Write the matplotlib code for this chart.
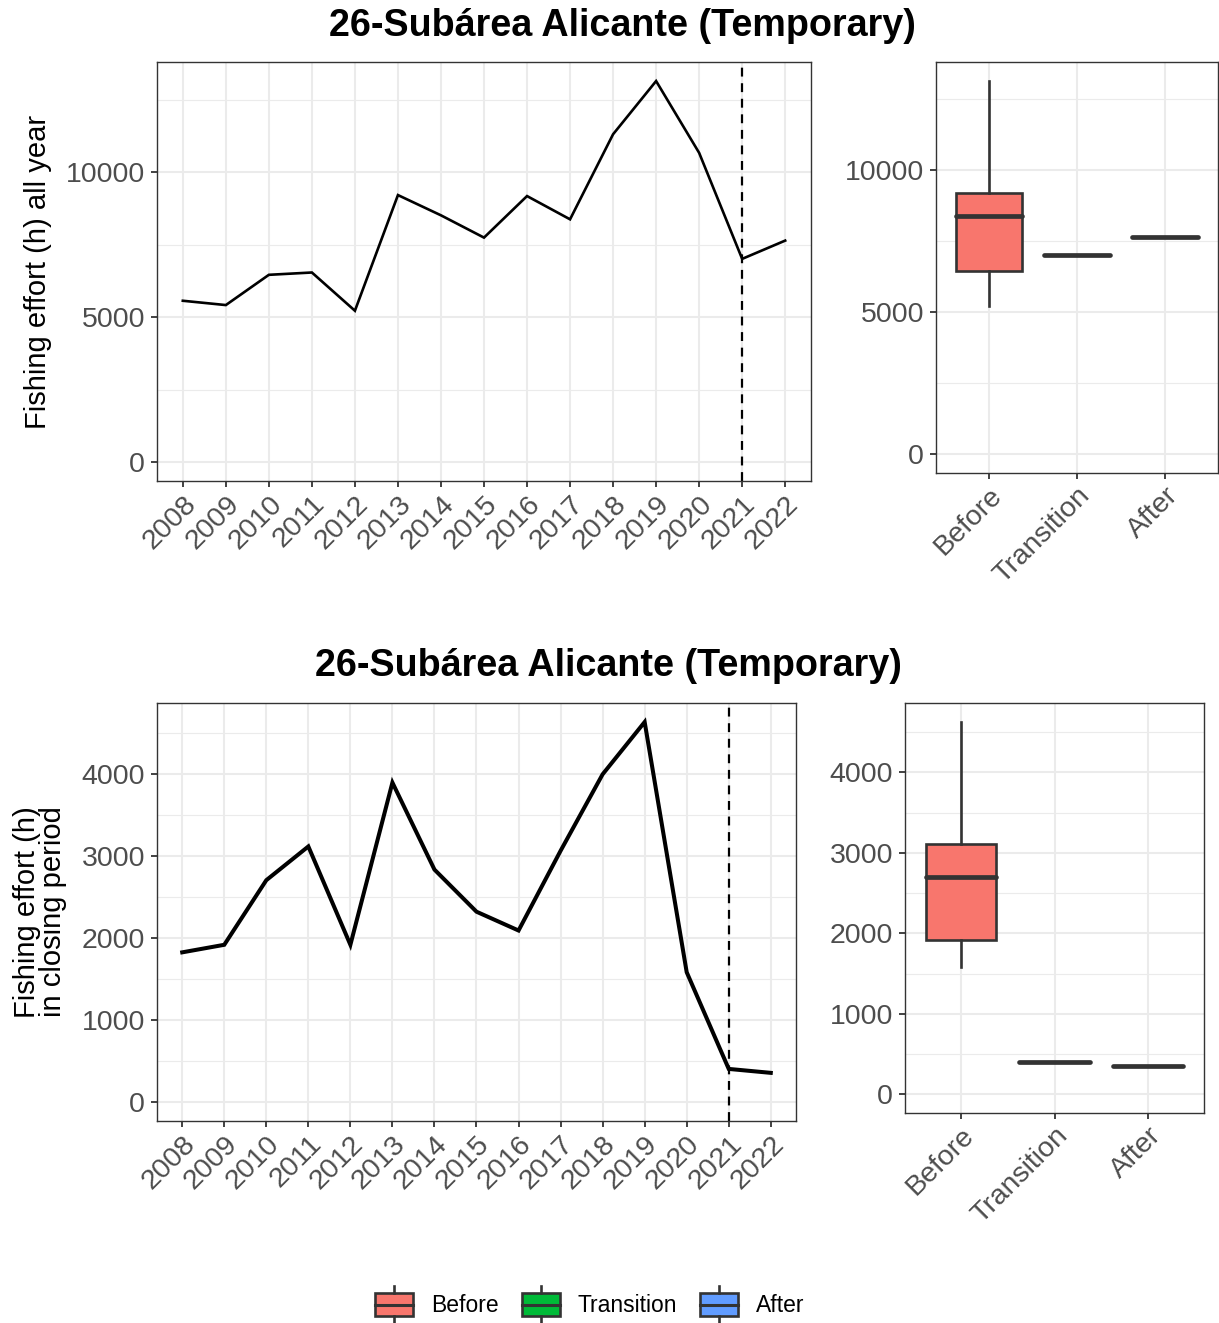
import matplotlib
matplotlib.use("Agg")
import matplotlib.pyplot as plt
from matplotlib.legend_handler import HandlerBase
from matplotlib.patches import Rectangle
from matplotlib.lines import Line2D
from matplotlib.ticker import MultipleLocator

plt.rcParams['font.family'] = ['Liberation Sans', 'DejaVu Sans']

years = [2008, 2009, 2010, 2011, 2012, 2013, 2014, 2015, 2016, 2017, 2018, 2019, 2020, 2021, 2022]
effort_all_year = [5563, 5414, 6458, 6538, 5219, 9210, 8511, 7742, 9176, 8373, 11309, 13145, 10667, 7008, 7639]
effort_closing = [1823, 1915, 2702, 3113, 1915, 3891, 2831, 2318, 2089, 3060, 3992, 4629, 1581, 403, 355]
periods = ['Before', 'Transition', 'After']
period_colors = ['#F8766D', '#00BA38', '#619CFF']
transition_year = 2021
title_text = '26-Subárea Alicante (Temporary)'
ylabel_top = 'Fishing effort (h) all year'
ylabel_bottom = 'Fishing effort (h)\nin closing period'

W, H = 1219, 1323
fig = plt.figure(figsize=(W / 100, H / 100), dpi=100)

GRID = '#EBEBEB'
DARK = '#333333'
TICKC = '#4D4D4D'


def frac(l, t, r, b):
    return [l / W, 1 - b / H, (r - l) / W, (b - t) / H]


def style(ax, ymajor, yminor):
    ax.set_facecolor('white')
    for s in ax.spines.values():
        s.set_color(DARK)
        s.set_linewidth(1.0)
    ax.yaxis.set_major_locator(MultipleLocator(ymajor))
    ax.yaxis.set_minor_locator(MultipleLocator(yminor))
    ax.grid(True, which='major', color=GRID, linewidth=1.5)
    ax.grid(True, which='minor', axis='y', color=GRID, linewidth=0.8)
    ax.set_axisbelow(True)
    ax.tick_params(axis='both', which='major', length=4, width=1.3, color=DARK,
                   labelsize=20.5, labelcolor=TICKC, pad=3)
    ax.tick_params(axis='y', which='major', pad=4.5)
    ax.tick_params(axis='y', which='minor', length=0)
    ax.tick_params(axis='x', which='minor', bottom=False)


def split_periods(vals):
    before = [v for y, v in zip(years, vals) if y < transition_year]
    trans = [v for y, v in zip(years, vals) if y == transition_year]
    after = [v for y, v in zip(years, vals) if y > transition_year]
    return [before, trans, after]


def line_panel(rect, vals, lw, ymajor, yminor):
    ax = fig.add_axes(rect)
    style(ax, ymajor, yminor)
    idx = list(range(len(years)))
    ax.plot(idx, vals, color='black', linewidth=lw, solid_joinstyle='miter')
    ax.axvline(years.index(transition_year), color='black', linestyle=(0, (4, 3)), linewidth=1.6)
    ax.set_xticks(idx)
    ax.set_xticklabels([str(y) for y in years], rotation=45, ha='right', va='top',
                       rotation_mode='anchor')
    ax.set_xlim(-0.6, len(years) - 1 + 0.6)
    top = max(vals)
    ax.set_ylim(-0.05 * top, top * 1.05)
    return ax


def box_panel(rect, vals, ymajor, yminor):
    ax = fig.add_axes(rect)
    style(ax, ymajor, yminor)
    groups = split_periods(vals)
    bp = ax.boxplot(groups, positions=[0, 1, 2], widths=0.75, patch_artist=True,
                    showfliers=False, whis=1.5,
                    medianprops=dict(color=DARK, linewidth=3.4),
                    boxprops=dict(edgecolor=DARK, linewidth=1.9),
                    whiskerprops=dict(color=DARK, linewidth=1.9),
                    capprops=dict(linewidth=0))
    for patch, c in zip(bp['boxes'], period_colors):
        patch.set_facecolor(c)
    for m in bp['medians']:
        m.set_solid_capstyle('round')
    ax.set_xticks([0, 1, 2])
    ax.set_xticklabels(periods, rotation=45, ha='right', va='top', rotation_mode='anchor')
    ax.set_xlim(-0.6, 2.6)
    top = max(vals)
    ax.set_ylim(-0.05 * top, top * 1.05)
    return ax


line_panel(frac(157, 62, 811, 481), effort_all_year, 1.9, 5000, 2500)
box_panel(frac(936, 62, 1218, 473), effort_all_year, 5000, 2500)
line_panel(frac(157, 703, 796, 1121), effort_closing, 2.9, 1000, 500)
box_panel(frac(905, 703, 1204, 1113), effort_closing, 1000, 500)

fig.text(622 / W, 1 - 26 / H, title_text, ha='center', va='center', fontsize=27.2,
         fontweight='bold')
fig.text(608 / W, 1 - 666 / H, title_text, ha='center', va='center', fontsize=27.2,
         fontweight='bold')
fig.text(38 / W, 1 - 272 / H, ylabel_top, rotation=90, ha='center', va='center',
         fontsize=21)
fig.text(40 / W, 1 - 912 / H, ylabel_bottom, rotation=90, ha='center', va='center',
         fontsize=21, linespacing=0.95)


class BoxKeyHandler(HandlerBase):
    def create_artists(self, legend, orig_handle, xdescent, ydescent, width, height,
                       fontsize, trans):
        c = orig_handle.get_facecolor()
        x0 = -xdescent
        y0 = -ydescent
        rect = Rectangle((x0, y0), width, height,
                         facecolor=c, edgecolor=DARK, linewidth=1.9, transform=trans)
        xm = x0 + width / 2
        med = Line2D([x0, x0 + width], [y0 + height / 2] * 2, color=DARK,
                     linewidth=2.2, transform=trans)
        w1 = Line2D([xm, xm], [y0 + height, y0 + height * 1.3],
                    color=DARK, linewidth=1.9, transform=trans)
        w2 = Line2D([xm, xm], [y0, y0 - height * 0.3],
                    color=DARK, linewidth=1.9, transform=trans)
        return [rect, med, w1, w2]


handles = [Rectangle((0, 0), 1, 1, facecolor=c) for c in period_colors]
fig.legend(handles, periods, handler_map={Rectangle: BoxKeyHandler()},
           loc='center', bbox_to_anchor=(590 / W, 1 - 1305 / H), ncol=3, frameon=False,
           fontsize=16.5, handlelength=1.65, handleheight=1.2, handletextpad=0.8,
           columnspacing=1.0, borderaxespad=0, borderpad=0)

fig.savefig('out.png', dpi=100)
